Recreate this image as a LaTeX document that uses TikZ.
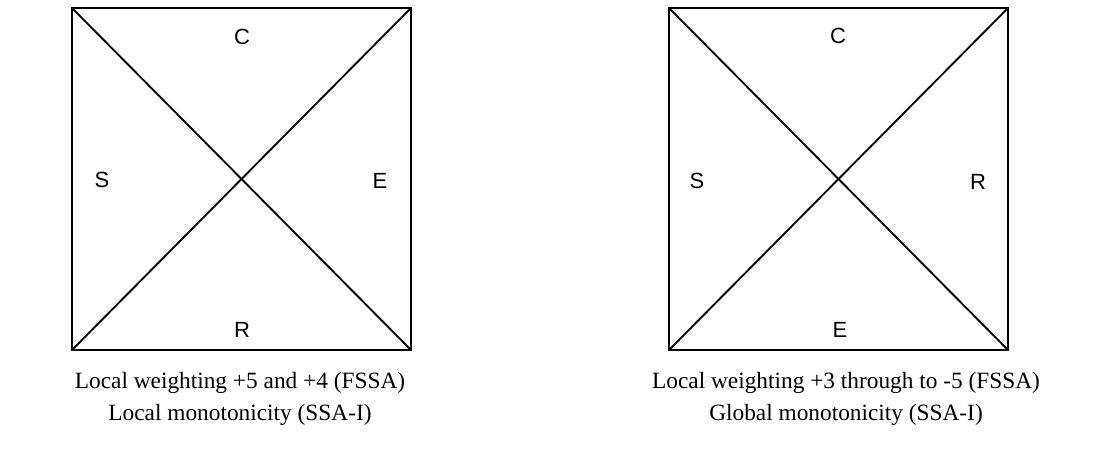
\documentclass[tikz,border=0pt]{standalone}
\usepackage{fontspec}
\setmainfont{Liberation Serif}
\newfontfamily\labelfont{Liberation Sans}
\usetikzlibrary{positioning}

\begin{document}
\begin{tikzpicture}[
    x=0.75pt, y=-0.75pt,
    % Styles
    frame/.style={
        draw=black,
        line width=1.4pt
    },
    diag/.style={
        draw=black,
        line width=1.4pt
    },
    sidelabel/.style={
        font=\labelfont\fontsize{16.5}{18}\selectfont,
        inner sep=0pt
    },
    caption/.style={
        font=\fontsize{17.5}{24}\selectfont,
        align=center,
        inner sep=0pt
    }
]
    \useasboundingbox (0,0) rectangle (1112,450);

    % ================= LEFT SQUARE =================
    \coordinate (ltl) at (72,8);
    \coordinate (ltr) at (411,8);
    \coordinate (lbl) at (72,350);
    \coordinate (lbr) at (411,350);

    \draw[frame] (ltl) -- (ltr) -- (lbr) -- (lbl) -- cycle;
    \draw[diag] (ltl) -- (lbr);
    \draw[diag] (lbl) -- (ltr);

    \node[sidelabel] (lC) at (242,37) {C};
    \node[sidelabel] (lS) at (102,180) {S};
    \node[sidelabel] (lE) at (380,181) {E};
    \node[sidelabel] (lR) at (242,330) {R};

    \node[caption] (lcap) at (240,399) {Local weighting +5 and +4 (FSSA)\\ Local monotonicity (SSA-I)};

    % ================= RIGHT SQUARE =================
    \coordinate (rtl) at (669,8);
    \coordinate (rtr) at (1008,8);
    \coordinate (rbl) at (669,350);
    \coordinate (rbr) at (1008,350);

    \draw[frame] (rtl) -- (rtr) -- (rbr) -- (rbl) -- cycle;
    \draw[diag] (rtl) -- (rbr);
    \draw[diag] (rbl) -- (rtr);

    \node[sidelabel] (rC) at (838,36) {C};
    \node[sidelabel] (rS) at (697,181) {S};
    \node[sidelabel] (rR) at (978,182) {R};
    \node[sidelabel] (rE) at (840,330) {E};

    \node[caption] (rcap) at (846,399) {Local weighting +3 through to -5 (FSSA)\\ Global monotonicity (SSA-I)};

\end{tikzpicture}
\end{document}
